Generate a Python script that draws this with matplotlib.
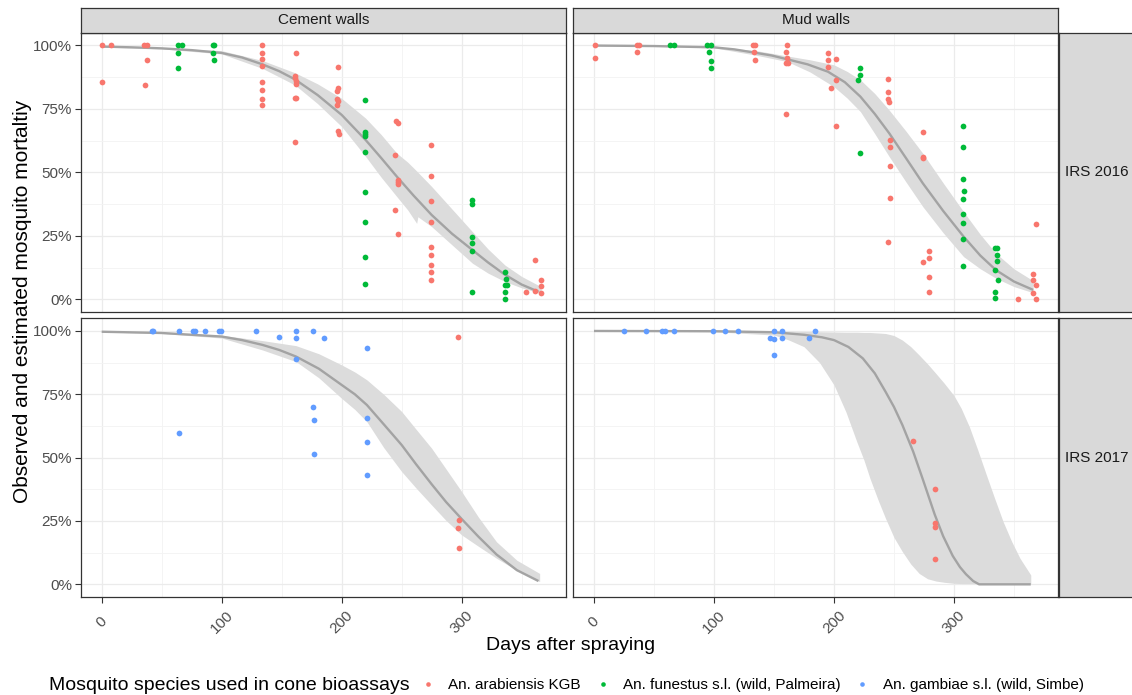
import matplotlib
matplotlib.use("Agg")
import matplotlib.pyplot as plt
from matplotlib.lines import Line2D

plt.rcParams['font.family'] = ['Liberation Sans', 'DejaVu Sans']

# ---------------- data ----------------
species = ["An. arabiensis KGB", "An. funestus s.l. (wild, Palmeira)", "An. gambiae s.l. (wild, Simbe)"]
species_colors = ["#F8766D", "#00BA38", "#619CFF"]
wall_types = ["Cement walls", "Mud walls"]
campaigns = ["IRS 2016", "IRS 2017"]
x_ticks = [0, 100, 200, 300]
x_tick_labels = ["0", "100", "200", "300"]
y_ticks = [0, 0.25, 0.5, 0.75, 1.0]
y_tick_labels = ["0%", "25%", "50%", "75%", "100%"]

# IRS 2016, cement walls
c16_arab_day = [0.5, 7.8, 0.5, 35.5, 37.5, 37.8, 35.8,
                134, 134, 134, 134, 134, 134, 134, 134,
                162, 160.8, 161.4, 161.7, 161.7, 161.1, 161.7, 160.8,
                196.7, 196.7, 195.8, 195.8, 196.7, 195.8, 196.7, 198.1,
                245.3, 247.2, 244.7, 246.7, 247.2, 246.7, 244.7, 246.9,
                274.7, 274.7, 274.7, 274.7, 274.7, 274.7, 274.7, 274.7, 274.7,
                361, 354, 361, 365.8, 365.8, 365.8]
c16_arab_mort = [1.0, 1.0, 0.857, 1.0, 1.0, 0.941, 0.842,
                 1.0, 0.971, 0.945, 0.919, 0.857, 0.823, 0.789, 0.764,
                 0.970, 0.881, 0.870, 0.861, 0.848, 0.794, 0.794, 0.619,
                 0.913, 0.833, 0.819, 0.789, 0.780, 0.765, 0.664, 0.650,
                 0.703, 0.693, 0.567, 0.471, 0.463, 0.454, 0.352, 0.257,
                 0.609, 0.486, 0.386, 0.303, 0.206, 0.175, 0.136, 0.106, 0.075,
                 0.156, 0.028, 0.031, 0.075, 0.052, 0.025]
c16_fun_day = [64, 67.2, 64, 64, 93, 93.9, 93, 93.9,
               219.7, 219.7, 219.7, 219.7, 219.7, 219.7, 219.7, 219.7, 219.7,
               308.9, 308.9, 308.9, 308.9, 308.9, 308.9,
               335.8, 337, 335.8, 337.5, 335.8, 335.8]
c16_fun_mort = [1.0, 1.0, 0.969, 0.909, 1.0, 1.0, 0.970, 0.944,
                0.783, 0.657, 0.652, 0.644, 0.579, 0.421, 0.303, 0.167, 0.062,
                0.390, 0.374, 0.244, 0.223, 0.190, 0.028,
                0.106, 0.080, 0.055, 0.055, 0.028, 0.001]
c16_fit_day = [0, 25, 50, 75, 100, 117, 134, 148, 161, 180, 200, 220, 233, 246, 260,
               275, 292, 309, 322, 336, 350, 364]
c16_fit = [0.995, 0.992, 0.988, 0.981, 0.970, 0.952, 0.925, 0.898, 0.866, 0.804, 0.726,
           0.627, 0.556, 0.483, 0.408, 0.332, 0.258, 0.194, 0.145, 0.097, 0.058, 0.030]
c16_ci_day = [0, 50, 100, 134, 161, 180, 200, 220, 233, 246, 255, 262.5, 263.5, 275,
              292, 309, 322, 336, 350, 366]
c16_ci_lo = [0.993, 0.986, 0.966, 0.909, 0.844, 0.770, 0.680, 0.562, 0.480, 0.404, 0.352,
             0.299, 0.325, 0.286, 0.214, 0.142, 0.103, 0.070, 0.045, 0.024]
c16_ci_hi = [0.997, 0.990, 0.979, 0.940, 0.892, 0.848, 0.791, 0.713, 0.648, 0.575, 0.540,
             0.505, 0.500, 0.444, 0.355, 0.266, 0.198, 0.135, 0.090, 0.050]

# IRS 2016, mud walls
m16_arab_day = [1.1, 1.1, 35.5, 37.2, 36.1, 132.6, 134.3, 133.1, 134.0,
                160.9, 159.8, 160.9, 159.8, 162.0, 159.8,
                194.7, 194.7, 194.7, 201.9, 201.9, 197.8, 201.9,
                244.9, 244.9, 244.9, 245.8, 246.9, 246.9, 246.9, 246.9, 244.9,
                273.8, 273.8, 273.8, 278.8, 278.8, 273.8, 278.8, 278.8,
                368.4, 365.6, 365.6, 368.7, 365.6, 368.7, 353.7]
m16_arab_mort = [1.0, 0.949, 1.0, 1.0, 0.974, 1.0, 1.0, 0.972, 0.944,
                 1.0, 0.975, 0.949, 0.929, 0.929, 0.731,
                 0.969, 0.941, 0.915, 0.947, 0.865, 0.833, 0.684,
                 0.867, 0.816, 0.789, 0.777, 0.627, 0.600, 0.525, 0.400, 0.226,
                 0.659, 0.562, 0.555, 0.190, 0.163, 0.146, 0.087, 0.030,
                 0.298, 0.101, 0.076, 0.055, 0.026, 0.001, 0.001]
m16_fun_day = [63.2, 66.9, 93.8, 97.1, 96.0, 97.1, 97.1,
               221.9, 221.9, 219.9, 221.9,
               307.6, 307.6, 307.6, 308.7, 307.6, 307.6, 307.6, 307.6, 307.6,
               334.5, 335.9, 335.9, 335.9, 334.5, 336.8, 334.5, 334.5]
m16_fun_mort = [1.0, 1.0, 1.0, 1.0, 0.972, 0.940, 0.909,
                0.912, 0.882, 0.865, 0.577,
                0.684, 0.600, 0.474, 0.425, 0.395, 0.335, 0.300, 0.238, 0.133,
                0.201, 0.201, 0.175, 0.152, 0.115, 0.076, 0.030, 0.004]
m16_fit_day = [0, 50, 100, 117, 134, 148, 161, 178, 195, 209, 222, 234, 246, 260, 274,
               291, 308, 322, 335, 350, 366]
m16_fit = [0.999, 0.997, 0.992, 0.984, 0.971, 0.960, 0.945, 0.925, 0.896, 0.855, 0.798,
           0.730, 0.654, 0.556, 0.457, 0.348, 0.247, 0.172, 0.115, 0.070, 0.037]
m16_ci_day = [0, 50, 100, 134, 161, 180, 200, 211, 222, 234, 246, 260, 274, 291, 308,
              322, 335, 350, 366]
m16_ci_lo = [0.998, 0.996, 0.990, 0.962, 0.936, 0.895, 0.837, 0.792, 0.739, 0.652, 0.562,
             0.462, 0.365, 0.262, 0.168, 0.120, 0.083, 0.050, 0.026]
m16_ci_hi = [1.0, 0.999, 0.994, 0.980, 0.958, 0.943, 0.923, 0.897, 0.864, 0.810, 0.745,
             0.662, 0.575, 0.458, 0.345, 0.255, 0.181, 0.120, 0.073]

# IRS 2017, cement walls
c17_gam_day = [41.7, 43.1, 64.7, 76.4, 77.8, 85.8, 98.1, 99.2, 128.9, 148.1,
               161.9, 161.9, 161.9, 176.1, 185, 175.8, 176.9, 176.9, 64.7,
               220.8, 220.8, 220.8, 220.8]
c17_gam_mort = [1.0, 1.0, 1.0, 1.0, 1.0, 1.0, 1.0, 1.0, 1.0, 0.975,
                1.0, 0.972, 0.888, 1.0, 0.972, 0.701, 0.647, 0.513, 0.599,
                0.934, 0.655, 0.561, 0.433]
c17_arab_day = [296.9, 297.8, 296.9, 297.8]
c17_arab_mort = [0.975, 0.254, 0.224, 0.145]
c17_fit_day = [0, 50, 100, 117, 134, 148, 162, 181, 200, 211, 221, 235, 250, 262, 275,
               287, 300, 314, 329, 346, 364]
c17_fit = [0.997, 0.992, 0.978, 0.964, 0.945, 0.925, 0.899, 0.851, 0.787, 0.750, 0.708,
           0.632, 0.550, 0.474, 0.395, 0.325, 0.258, 0.188, 0.118, 0.056, 0.013]
c17_ci_day = [0, 50, 100, 134, 162, 181, 200, 211, 221, 235, 250, 262, 275, 287, 300,
              314, 329, 346, 365]
c17_ci_lo = [0.996, 0.990, 0.972, 0.925, 0.879, 0.815, 0.734, 0.690, 0.642, 0.540, 0.445,
             0.380, 0.313, 0.252, 0.195, 0.150, 0.103, 0.055, 0.011]
c17_ci_hi = [0.998, 0.994, 0.983, 0.962, 0.942, 0.910, 0.866, 0.838, 0.807, 0.750, 0.682,
             0.612, 0.537, 0.455, 0.366, 0.265, 0.168, 0.095, 0.043]

# IRS 2017, mud walls
m17_gam_day = [25.0, 43.3, 56.9, 59.4, 66.9, 99.0, 109.0, 120.1, 149.8, 156.7,
               146.5, 149.8, 156.7, 149.8, 178.9, 183.9]
m17_gam_mort = [1.0, 1.0, 1.0, 1.0, 1.0, 1.0, 1.0, 1.0, 1.0, 1.0,
                0.974, 0.968, 0.972, 0.905, 0.974, 1.0]
m17_arab_day = [265.7, 283.8, 283.8, 283.8, 283.8]
m17_arab_mort = [0.567, 0.378, 0.241, 0.225, 0.101]
m17_fit_day = [0, 100, 150, 175, 190, 200, 212, 224, 234, 243, 250, 257, 266, 274, 284,
               291, 299, 305, 310, 316, 321, 364]
m17_fit = [1.0, 0.999, 0.995, 0.985, 0.975, 0.964, 0.937, 0.892, 0.833, 0.760, 0.700,
           0.629, 0.524, 0.415, 0.275, 0.190, 0.112, 0.068, 0.040, 0.013, 0.0, 0.0]
m17_ci_day = [0, 100, 150, 162, 175, 188, 200, 210, 219, 225, 230, 237, 243, 250, 257,
              264, 271, 278, 285, 292, 300, 306, 313, 320, 327, 334, 341, 348, 355, 364]
m17_ci_lo = [1.0, 0.997, 0.984, 0.965, 0.938, 0.875, 0.787, 0.680, 0.563, 0.490, 0.418,
             0.330, 0.260, 0.185, 0.129, 0.080, 0.043, 0.022, 0.013, 0.008, 0.004, 0.003,
             0.003, 0.003, 0.003, 0.003, 0.003, 0.003, 0.003, 0.003]
m17_ci_hi = [1.0, 1.0, 0.999, 0.999, 0.998, 0.997, 0.996, 0.995, 0.995, 0.994, 0.994,
             0.992, 0.990, 0.982, 0.964, 0.938, 0.905, 0.870, 0.832, 0.793, 0.745, 0.695,
             0.620, 0.528, 0.432, 0.338, 0.247, 0.170, 0.103, 0.037]

panels = {
    (0, 0): dict(points=[(0, c16_arab_day, c16_arab_mort), (1, c16_fun_day, c16_fun_mort)],
                 fit=(c16_fit_day, c16_fit), ci=(c16_ci_day, c16_ci_lo, c16_ci_hi)),
    (0, 1): dict(points=[(0, m16_arab_day, m16_arab_mort), (1, m16_fun_day, m16_fun_mort)],
                 fit=(m16_fit_day, m16_fit), ci=(m16_ci_day, m16_ci_lo, m16_ci_hi)),
    (1, 0): dict(points=[(2, c17_gam_day, c17_gam_mort), (0, c17_arab_day, c17_arab_mort)],
                 fit=(c17_fit_day, c17_fit), ci=(c17_ci_day, c17_ci_lo, c17_ci_hi)),
    (1, 1): dict(points=[(2, m17_gam_day, m17_gam_mort), (0, m17_arab_day, m17_arab_mort)],
                 fit=(m17_fit_day, m17_fit), ci=(m17_ci_day, m17_ci_lo, m17_ci_hi)),
}

# ---------------- layout ----------------
W, H = 1132, 695
fig = plt.figure(figsize=(W / 100, H / 100), dpi=100)


def box(x0, y0, x1, y1):
    return [x0 / W, 1 - y1 / H, (x1 - x0) / W, (y1 - y0) / H]


col_x = [(80.7, 565.7), (573.0, 1058.0)]
row_y = [(32.6, 312.0), (318.3, 597.0)]
BORDER = "#333333"
GRID = "#EBEBEB"
STRIP = "#D9D9D9"

for (r, c), p in panels.items():
    x0, x1 = col_x[c]
    y0, y1 = row_y[r]
    ax = fig.add_axes(box(x0, y0, x1, y1))
    ax.set_xlim(-17.5, 386.7)
    ax.set_ylim(-0.05, 1.05)
    ax.set_xticks(x_ticks)
    ax.set_xticks([50, 150, 250, 350], minor=True)
    ax.set_yticks(y_ticks)
    ax.set_yticks([0.125, 0.375, 0.625, 0.875], minor=True)
    ax.grid(which="major", color=GRID, lw=0.9)
    ax.grid(which="minor", color="#F3F3F3", lw=0.6)
    ax.set_axisbelow(True)
    for s in ax.spines.values():
        s.set_color(BORDER)
        s.set_linewidth(0.9)
    ax.tick_params(which="minor", length=0)
    ax.tick_params(which="major", length=4, width=0.8, color=BORDER,
                   labelsize=11, labelcolor="#4D4D4D")
    ax.tick_params(axis="y", pad=2.2)

    d, lo, hi = p["ci"]
    ax.fill_between(d, lo, hi, color="#DCDCDC", lw=0, zorder=1)
    fd, fv = p["fit"]
    ax.plot(fd, fv, color="#A3A3A3", lw=1.7, zorder=2, solid_capstyle="butt",
            solid_joinstyle="round")
    for si, dd, mm in p["points"]:
        ax.scatter(dd, mm, s=17, color=species_colors[si], lw=0, zorder=3)

    if c == 0:
        ax.set_yticklabels(y_tick_labels)
    else:
        ax.tick_params(axis="y", length=0, labelleft=False)
    if r == 1:
        ax.set_xticklabels(x_tick_labels)
        ax.tick_params(axis="x", pad=14.4)
        for lab in ax.get_xticklabels():
            lab.set_rotation(45)
            lab.set_ha("center")
            lab.set_va("center")
    else:
        ax.tick_params(axis="x", length=0, labelbottom=False)

# top strips
for c, name in enumerate(wall_types):
    x0, x1 = col_x[c]
    sax = fig.add_axes(box(x0, 8.0, x1, 32.6))
    sax.set_facecolor(STRIP)
    sax.set_xticks([]); sax.set_yticks([])
    for s in sax.spines.values():
        s.set_color(BORDER); s.set_linewidth(0.9)
    sax.text(0.5, 0.5, name, ha="center", va="center", fontsize=11,
             color="#1A1A1A", transform=sax.transAxes)

# right strips
for r, name in enumerate(campaigns):
    y0, y1 = row_y[r]
    sax = fig.add_axes(box(1058.5, y0, 1145, y1))
    sax.set_facecolor(STRIP)
    sax.set_xticks([]); sax.set_yticks([])
    for s in sax.spines.values():
        s.set_color(BORDER); s.set_linewidth(0.9)
    fig.text(1065 / W, 1 - (y0 + y1) / 2 / H, name, ha="left", va="center",
             fontsize=11, color="#1A1A1A")

# axis titles
fig.text(570.5 / W, 1 - 645 / H, "Days after spraying", ha="center", va="center", fontsize=14)
fig.text(23 / W, 1 - 301 / H, "Observed and estimated mosquito mortaltiy", rotation=90,
         ha="center", va="center", fontsize=15)

# legend
fig.text(49 / W, 1 - 685 / H, "Mosquito species used in cone bioassays", ha="left",
         va="center", fontsize=14)
handles = [Line2D([], [], ls="none", marker="o", markersize=3.3, markeredgewidth=0,
                  color=col) for col in species_colors]
fig.legend(handles, species, ncol=3, loc="center left",
           bbox_to_anchor=(420.4 / W, 1 - 685 / H), frameon=False, fontsize=11,
           handlelength=1.0, handletextpad=0.81, columnspacing=0.95,
           borderpad=0, borderaxespad=0)

fig.savefig("out.png", dpi=100)
